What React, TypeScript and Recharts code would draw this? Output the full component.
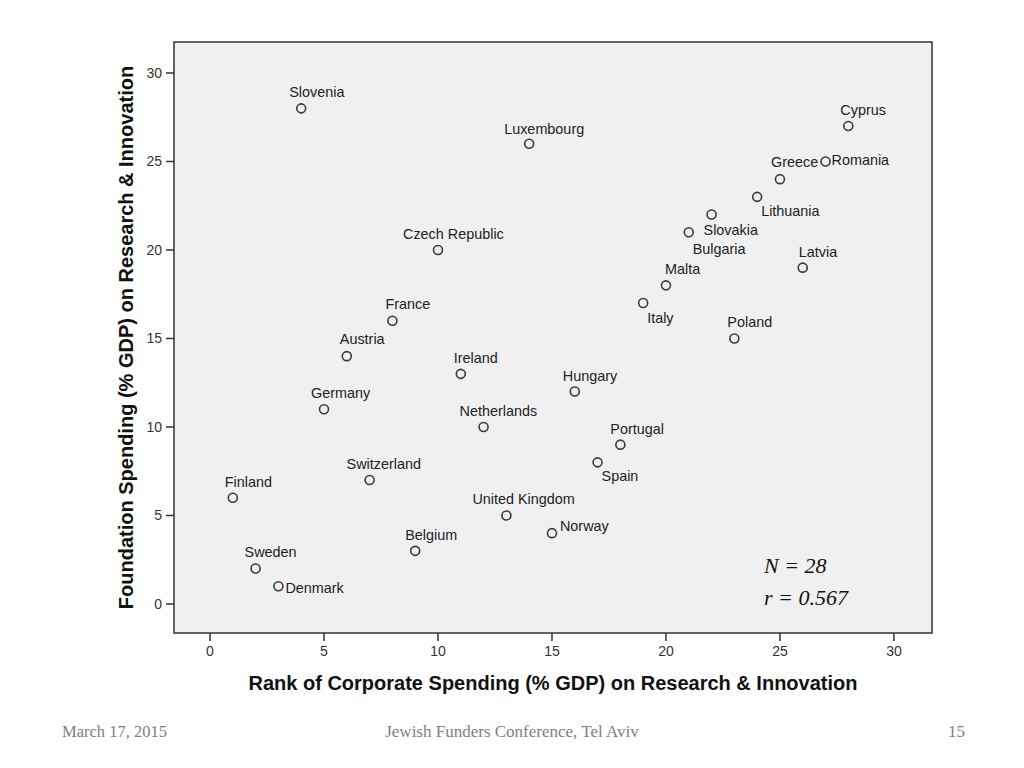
import * as React from 'react';
import {
  ScatterChart,
  Scatter,
  XAxis,
  YAxis,
  ReferenceArea,
} from 'recharts';

// countries, corporate spending rank (x) and foundation spending (y)
const countries = [
  'Slovenia', 'Luxembourg', 'Cyprus', 'Romania', 'Greece', 'Lithuania', 'Slovakia',
  'Bulgaria', 'Latvia', 'Malta', 'Italy', 'Poland', 'Czech Republic', 'France',
  'Austria', 'Ireland', 'Hungary', 'Germany', 'Netherlands', 'Portugal', 'Spain',
  'Switzerland', 'Finland', 'United Kingdom', 'Norway', 'Belgium', 'Sweden', 'Denmark',
];
const corporateRank = [4, 14, 28, 27, 25, 24, 22, 21, 26, 20, 19, 23, 10, 8, 6, 11, 16, 5, 12, 18, 17, 7, 1, 13, 15, 9, 2, 3];
const foundationSpending = [28, 26, 27, 25, 24, 23, 22, 21, 19, 18, 17, 15, 20, 16, 14, 13, 12, 11, 10, 9, 8, 7, 6, 5, 4, 3, 2, 1];
const ticks = [0, 5, 10, 15, 20, 25, 30];

// where each label sits relative to its marker (px)
const labelOffset: { [name: string]: [number, number] } = {
  Slovenia: [-12, -16],
  Luxembourg: [-25, -15],
  Cyprus: [-8, -16],
  Romania: [6, -1],
  Greece: [-9, -17],
  Lithuania: [4, 14],
  Slovakia: [-8, 15],
  Bulgaria: [4, 17],
  Latvia: [-4, -16],
  Malta: [-1, -16],
  Italy: [4, 15],
  Poland: [-7, -16],
  'Czech Republic': [-35, -16],
  France: [-7, -17],
  Austria: [-7, -17],
  Ireland: [-7, -16],
  Hungary: [-12, -16],
  Germany: [-13, -16],
  Netherlands: [-24, -16],
  Portugal: [-10, -16],
  Spain: [4, 14],
  Switzerland: [-23, -16],
  Finland: [-8, -16],
  'United Kingdom': [-34, -16],
  Norway: [8, -7],
  Belgium: [-10, -16],
  Sweden: [-11, -17],
  Denmark: [7, 2],
};

const data = countries.map((name, i) => ({
  name,
  rank: corporateRank[i],
  spending: foundationSpending[i],
}));

const FONT = '"Liberation Sans", Arial, sans-serif';

const Marker = (props: any) => {
  const { cx, cy, payload } = props;
  const off = labelOffset[payload.name] || [6, -10];
  return (
    <g>
      <circle cx={cx} cy={cy} r={4.5} fill="none" stroke="#3a3a3a" strokeWidth={1.6} />
      <text
        x={cx + off[0]}
        y={cy + off[1]}
        dominantBaseline="central"
        fontFamily={FONT}
        fontSize={14.4}
        fill="#222"
      >
        {payload.name}
      </text>
    </g>
  );
};

const footStyle: React.CSSProperties = {
  position: 'absolute',
  top: 722,
  fontFamily: '"Liberation Serif", "DejaVu Serif", serif',
  fontSize: 17,
  color: '#808080',
};

const statStyle: React.CSSProperties = {
  position: 'absolute',
  left: 764,
  fontFamily: '"Liberation Serif", "DejaVu Serif", serif',
  fontStyle: 'italic',
  fontSize: 22,
  color: '#111',
};

export default function App() {
  return (
    <div style={{ position: 'fixed', left: 0, top: 0, width: 1024, height: 768, background: '#fff' }}>
      <ScatterChart
        width={1024}
        height={768}
        margin={{ top: 42, right: 92, bottom: 105, left: 114 }}
      >
        <XAxis
          type="number"
          dataKey="rank"
          domain={[-1.58, 31.67]}
          ticks={ticks}
          allowDataOverflow
          height={30}
          tickSize={8}
          tickMargin={5}
          axisLine={false}
          tickLine={{ stroke: '#333', strokeWidth: 1.5 }}
          tick={{ fontFamily: FONT, fontSize: 14, fill: '#333' }}
          label={{
            value: 'Rank of Corporate Spending (% GDP) on Research & Innovation',
            position: 'bottom',
            offset: 13,
            style: { fontFamily: FONT, fontSize: 20, fontWeight: 'bold', fill: '#111' },
          }}
        />
        <YAxis
          type="number"
          dataKey="spending"
          domain={[-1.64, 31.75]}
          ticks={ticks}
          allowDataOverflow
          width={60}
          tickSize={8}
          tickMargin={4}
          axisLine={false}
          tickLine={{ stroke: '#333', strokeWidth: 1.5 }}
          tick={{ fontFamily: FONT, fontSize: 14, fill: '#333' }}
          label={{
            value: 'Foundation Spending (% GDP) on Research & Innovation',
            angle: -90,
            position: 'center',
            dx: -18,
            style: { fontFamily: FONT, fontSize: 20, fontWeight: 'bold', fill: '#111', textAnchor: 'middle' },
          }}
        />
        <ReferenceArea
          x1={-1.58}
          x2={31.67}
          y1={-1.64}
          y2={31.75}
          fill="#f0f0f0"
          fillOpacity={1}
          stroke="#333"
          strokeWidth={1.5}
          ifOverflow="visible"
        />
        <Scatter data={data} shape={Marker} isAnimationActive={false} />
      </ScatterChart>
      <div style={{ ...statStyle, top: 553 }}>N = 28</div>
      <div style={{ ...statStyle, top: 585 }}>r = 0.567</div>
      <div style={{ ...footStyle, left: 62, fontSize: 16.5 }}>March 17, 2015</div>
      <div style={{ ...footStyle, left: 0, width: 1024, textAlign: 'center' }}>
        Jewish Funders Conference, Tel Aviv
      </div>
      <div style={{ ...footStyle, left: 948 }}>15</div>
    </div>
  );
}
